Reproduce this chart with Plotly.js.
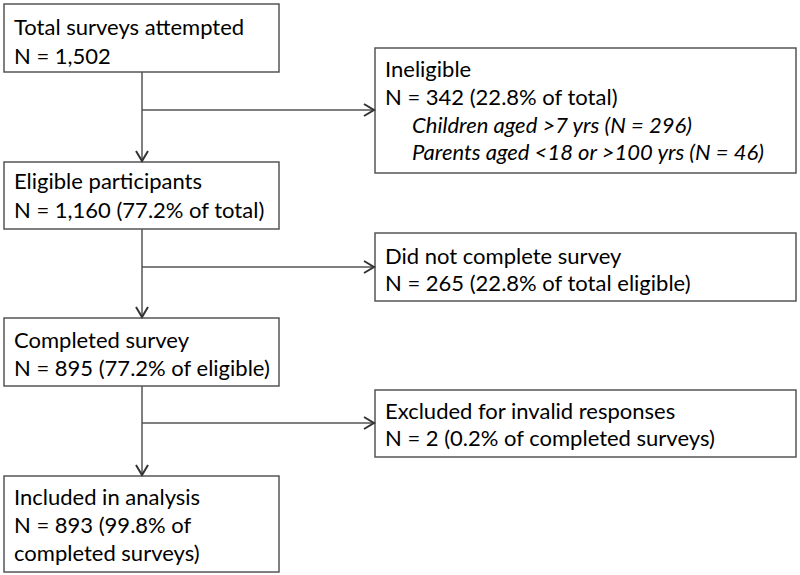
<!DOCTYPE html>
<html>
<head>
<meta charset="utf-8">
<script src="https://cdn.plot.ly/plotly-3.0.1.min.js"></script>
<style>html,body{margin:0;padding:0;background:#fff;}#chart{width:800px;height:575px;}</style>
</head>
<body>
<div id="chart"></div>
<script>
// ---- Data: flow steps ----
const mainLabels = ["Total surveys attempted", "Eligible participants", "Completed survey", "Included in analysis"];
const mainCounts = ["N = 1,502", "N = 1,160 (77.2% of total)", "N = 895 (77.2% of eligible)", "N = 893 (99.8% of|completed surveys)"];
const sideLabels = ["Ineligible", "Did not complete survey", "Excluded for invalid responses"];
const sideCounts = ["N = 342 (22.8% of total)", "N = 265 (22.8% of total eligible)", "N = 2 (0.2% of completed surveys)"];
const ineligibleReasons = ["Children aged &gt;7 yrs (N = 296)", "Parents aged &lt;18 or &gt;100 yrs (N = 46)"];

// ---- Geometry (pixel layout of the diagram) ----
const G = {
  mainX: [4, 279],
  mainY: [[4, 72], [162, 229], [318, 386], [476, 572]],
  sideX: [375, 796],
  sideY: [[48, 173], [233, 301], [390, 457]],
  trunkX: 142,
  branchY: [110, 267, 423],
  mainBase: [[34, 63], [188, 217], [347, 375], [504, 532, 560]],
  sideBase: [[76, 104], [263, 290], [418, 445]],
  reasonBase: [132, 159],
  textPadX: 8, reasonIndent: 27,
  fontSize: 22, lineColor: '#555555', textColor: '#000000'
};

const shapes = [];
const annotations = [];
const lineStyle = {color: G.lineColor, width: 1.5};

function rect(x, y) {
  shapes.push({type: 'rect', xref: 'x', yref: 'y', x0: x[0], x1: x[1], y0: y[0], y1: y[1], line: lineStyle, fillcolor: 'rgba(0,0,0,0)'});
}
function seg(x0, y0, x1, y1) {
  shapes.push({type: 'line', xref: 'x', yref: 'y', x0: x0, y0: y0, x1: x1, y1: y1, line: lineStyle});
}
function chevron(x, y, dir) {
  let p;
  if (dir === 'down') p = `M ${x-6} ${y-10} L ${x} ${y} L ${x+6} ${y-10}`;
  else p = `M ${x-10} ${y-6} L ${x} ${y} L ${x-10} ${y+6}`;
  shapes.push({type: 'path', xref: 'x', yref: 'y', path: p, line: {color: '#333333', width: 2}});
}
function textLine(x, base, txt, italic) {
  annotations.push({
    xref: 'x', yref: 'y', x: x, y: base - G.fontSize * 0.33,
    xanchor: 'left', yanchor: 'middle', showarrow: false, align: 'left',
    text: italic ? '<i>' + txt + '</i>' : txt,
    font: {family: 'Lato, "DejaVu Sans", sans-serif', size: G.fontSize, color: G.textColor}
  });
}

// main boxes
mainLabels.forEach((lab, i) => {
  rect(G.mainX, G.mainY[i]);
  const lines = [lab].concat(mainCounts[i].split('|'));
  lines.forEach((t, j) => textLine(G.mainX[0] + G.textPadX, G.mainBase[i][j], t, false));
});
// side boxes
sideLabels.forEach((lab, i) => {
  rect(G.sideX, G.sideY[i]);
  [lab, sideCounts[i]].forEach((t, j) => textLine(G.sideX[0] + G.textPadX, G.sideBase[i][j], t, false));
});
ineligibleReasons.forEach((t, j) => textLine(G.sideX[0] + G.textPadX + G.reasonIndent, G.reasonBase[j], t, true));

// connectors
for (let i = 0; i < 3; i++) {
  seg(G.trunkX, G.mainY[i][1], G.trunkX, G.mainY[i + 1][0] - 1);
  chevron(G.trunkX, G.mainY[i + 1][0] - 1, 'down');
  seg(G.trunkX, G.branchY[i], G.sideX[0] - 1, G.branchY[i]);
  chevron(G.sideX[0] - 1, G.branchY[i], 'right');
}

const layout = {
  width: 800, height: 575,
  margin: {l: 0, r: 0, t: 0, b: 0},
  paper_bgcolor: '#ffffff', plot_bgcolor: '#ffffff',
  xaxis: {range: [0, 800], visible: false, fixedrange: true},
  yaxis: {range: [575, 0], visible: false, fixedrange: true},
  showlegend: false,
  shapes: shapes,
  annotations: annotations
};
Plotly.newPlot('chart', [{x: [], y: [], type: 'scatter', mode: 'markers', hoverinfo: 'skip'}], layout, {displayModeBar: false, staticPlot: true});
</script>
</body>
</html>
